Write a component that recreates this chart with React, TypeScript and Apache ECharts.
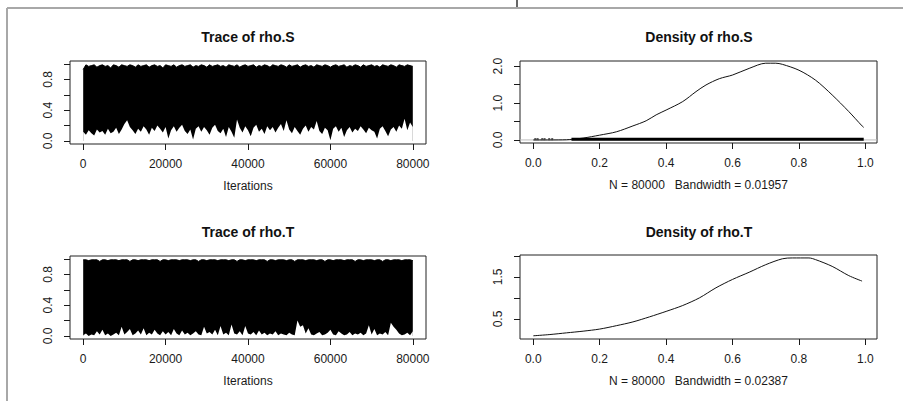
import React, { useEffect, useRef } from "react";
import * as echarts from "echarts";

const FONT = "'Liberation Sans', Arial, Helvetica, sans-serif";
const INK = "#1a1a1a";

// ---------- data ----------
const ITER_MAX = 80000;
const TRACE_POINTS = 121;

const traceSLow = [
  0.12, 0.08, 0.14, 0.10, 0.07, 0.15, 0.11, 0.13, 0.08, 0.16,
  0.10, 0.12, 0.17, 0.09, 0.15, 0.22, 0.27, 0.18, 0.14, 0.09,
  0.16, 0.12, 0.19, 0.15, 0.08, 0.17, 0.13, 0.20, 0.16, 0.11,
  0.18, 0.03, 0.14, 0.19, 0.12, 0.17, 0.21, 0.13, 0.09, 0.15,
  0.02, 0.16, 0.19, 0.12, 0.18, 0.14, 0.08, 0.17, 0.21, 0.13,
  0.10, 0.16, 0.05, 0.18, 0.12, 0.04, 0.28, 0.17, 0.11, 0.19,
  0.14, 0.06, 0.17, 0.21, 0.12, 0.16, 0.09, 0.19, 0.14, 0.18,
  0.11, 0.17, 0.22, 0.13, 0.27, 0.15, 0.10, 0.18, 0.13, 0.08,
  0.16, 0.20, 0.12, 0.18, 0.15, 0.26, 0.13, 0.09, 0.17, 0.14,
  0.01, 0.16, 0.19, 0.12, 0.17, 0.05, 0.14, 0.18, 0.11, 0.16,
  0.13, 0.19, 0.15, 0.10, 0.17, 0.14, 0.12, 0.03, 0.16, 0.19,
  0.13, 0.06, 0.15, 0.18, 0.12, 0.20, 0.16, 0.29, 0.14, 0.24, 0.18,
];
const traceSHigh = [
  0.93, 0.99, 0.97, 0.98, 0.99, 0.96, 0.98, 0.99, 0.97, 0.98,
  0.95, 0.99, 0.98, 0.96, 0.99, 0.98, 0.97, 0.99, 0.98, 0.96,
  0.99, 0.97, 0.98, 0.99, 0.96, 0.98, 0.99, 0.97, 0.98, 0.95,
  0.99, 0.98, 0.97, 0.99, 0.96, 0.98, 0.99, 0.97, 0.98, 0.99,
  0.96, 0.98, 0.97, 0.99, 0.98, 0.96, 0.99, 0.97, 0.98, 0.99,
  0.97, 0.98, 0.96, 0.99, 0.98, 0.97, 0.99, 0.96, 0.98, 0.99,
  0.97, 0.98, 0.99, 0.96, 0.98, 0.97, 0.99, 0.98, 0.96, 0.99,
  0.98, 0.97, 0.99, 0.98, 0.96, 0.99, 0.97, 0.98, 0.99, 0.96,
  0.98, 0.99, 0.97, 0.98, 0.96, 0.99, 0.98, 0.97, 0.99, 0.98,
  0.96, 0.98, 0.99, 0.97, 0.98, 0.99, 0.96, 0.98, 0.97, 0.99,
  0.98, 0.96, 0.99, 0.97, 0.98, 0.99, 0.97, 0.98, 0.96, 0.99,
  0.98, 0.97, 0.99, 0.98, 0.96, 0.99, 0.98, 0.97, 0.99, 0.98, 0.97,
];
const traceTLow = [
  0.01, 0.03, 0.00, 0.02, 0.01, 0.06, 0.02, 0.08, 0.01, 0.03,
  0.00, 0.02, 0.04, 0.01, 0.12, 0.02, 0.05, 0.09, 0.01, 0.03,
  0.07, 0.02, 0.10, 0.01, 0.04, 0.02, 0.08, 0.03, 0.01, 0.06,
  0.02, 0.05, 0.01, 0.09, 0.03, 0.01, 0.07, 0.02, 0.04, 0.01,
  0.03, 0.06, 0.02, 0.01, 0.12, 0.03, 0.05, 0.02, 0.08, 0.01,
  0.13, 0.02, 0.04, 0.01, 0.15, 0.03, 0.02, 0.06, 0.01, 0.13,
  0.03, 0.02, 0.05, 0.01, 0.07, 0.02, 0.04, 0.01, 0.03, 0.02,
  0.06, 0.01, 0.03, 0.02, 0.01, 0.04, 0.02, 0.01, 0.20, 0.12,
  0.14, 0.03, 0.10, 0.02, 0.01, 0.03, 0.05, 0.01, 0.02, 0.04,
  0.08, 0.02, 0.01, 0.06, 0.03, 0.01, 0.02, 0.05, 0.01, 0.03,
  0.02, 0.04, 0.01, 0.03, 0.14, 0.02, 0.09, 0.01, 0.03, 0.02,
  0.05, 0.01, 0.17, 0.12, 0.08, 0.03, 0.01, 0.02, 0.04, 0.01, 0.06,
];
const traceTHigh = [
  0.99, 0.99, 0.98, 0.99, 0.99, 0.99, 0.97, 0.99, 0.99, 0.98,
  0.99, 0.99, 0.99, 0.98, 0.99, 0.99, 0.99, 0.97, 0.99, 0.99,
  0.98, 0.99, 0.99, 0.99, 0.98, 0.99, 0.99, 0.99, 0.97, 0.99,
  0.99, 0.98, 0.99, 0.99, 0.99, 0.98, 0.99, 0.99, 0.99, 0.98,
  0.99, 0.99, 0.97, 0.99, 0.99, 0.98, 0.99, 0.99, 0.99, 0.98,
  0.99, 0.99, 0.99, 0.98, 0.99, 0.99, 0.97, 0.99, 0.99, 0.98,
  0.99, 0.99, 0.99, 0.98, 0.99, 0.99, 0.99, 0.97, 0.99, 0.99,
  0.98, 0.99, 0.99, 0.99, 0.98, 0.99, 0.99, 0.97, 0.99, 0.99,
  0.99, 0.98, 0.99, 0.99, 0.99, 0.98, 0.99, 0.99, 0.97, 0.99,
  0.99, 0.98, 0.99, 0.99, 0.99, 0.98, 0.99, 0.99, 0.99, 0.97,
  0.99, 0.99, 0.98, 0.99, 0.99, 0.99, 0.98, 0.99, 0.99, 0.97,
  0.99, 0.99, 0.98, 0.99, 0.99, 0.99, 0.98, 0.99, 0.99, 0.99, 0.98,
];

const densSX = [0.0, 0.05, 0.1, 0.12, 0.15, 0.2, 0.25, 0.3, 0.34, 0.37, 0.4, 0.45, 0.49, 0.52, 0.56, 0.6, 0.65, 0.7, 0.73, 0.75, 0.8, 0.85, 0.9, 0.95, 0.99, 0.995];
const densSY = [0.0, 0.0, 0.005, 0.02, 0.05, 0.13, 0.22, 0.38, 0.52, 0.68, 0.81, 1.04, 1.31, 1.49, 1.66, 1.76, 1.94, 2.08, 2.08, 2.05, 1.89, 1.62, 1.22, 0.77, 0.38, 0.34];
const densTX = [0.0, 0.05, 0.1, 0.15, 0.2, 0.25, 0.3, 0.35, 0.4, 0.45, 0.5, 0.55, 0.6, 0.65, 0.7, 0.75, 0.78, 0.83, 0.85, 0.9, 0.95, 0.99];
const densTY = [0.10, 0.13, 0.17, 0.21, 0.26, 0.34, 0.43, 0.55, 0.68, 0.82, 1.0, 1.24, 1.44, 1.61, 1.79, 1.93, 1.95, 1.95, 1.91, 1.75, 1.53, 1.40];

// rug of observations along the bottom of the rho.S density
const rugSRange = [0.115, 0.995];
const rugSDots = [0.006, 0.013, 0.027, 0.034, 0.048, 0.057];

const traceXTicks = [0, 20000, 40000, 60000, 80000];
const traceYTicks = [0, 0.2, 0.4, 0.6, 0.8, 1.0];
const traceYLabels = [0, 0.4, 0.8];
const densXTicks = [0, 0.2, 0.4, 0.6, 0.8, 1.0];
const densSYTicks = [0, 0.5, 1.0, 1.5, 2.0];
const densSYLabels = [0, 1.0, 2.0];
const densTYTicks = [0.5, 1.0, 1.5, 2.0];
const densTYLabels = [0.5, 1.5];

const titles = ["Trace of rho.S", "Density of rho.S", "Trace of rho.T", "Density of rho.T"];
const xNames = ["Iterations", "N = 80000   Bandwidth = 0.01957", "Iterations", "N = 80000   Bandwidth = 0.02387"];

// ---------- helpers ----------
const iterAt = (i: number) => Math.round((i * ITER_MAX) / (TRACE_POINTS - 1));

// black envelope down to 0, then white envelope of the lower edge on top of it
const bandSeries = (gi: number, low: number[], high: number[]) => [
  {
    type: "line",
    xAxisIndex: gi,
    yAxisIndex: gi,
    symbol: "none",
    lineStyle: { width: 1, color: "#000" },
    areaStyle: { color: "#000", opacity: 1, origin: 0 },
    data: high.map((v, i) => [iterAt(i), v]),
    silent: true,
    z: 2,
  },
  {
    type: "line",
    xAxisIndex: gi,
    yAxisIndex: gi,
    symbol: "none",
    lineStyle: { width: 0, color: "#fff", opacity: 0 },
    areaStyle: { color: "#fff", opacity: 1, origin: 0 },
    data: low.map((v, i) => [iterAt(i), v]),
    silent: true,
    z: 3,
  },
];

const labelStyle = { fontSize: 12, color: INK, fontFamily: FONT };

const xAxisOf = (gi: number, min: number, max: number, ticks: number[], fmt: (v: number) => string, name: string) => ({
  type: "value",
  gridIndex: gi,
  min,
  max,
  axisLine: { show: false, onZero: false },
  splitLine: { show: false },
  axisTick: { show: true, length: 6, customValues: ticks, lineStyle: { color: INK, width: 1 } },
  axisLabel: { ...labelStyle, margin: 14, customValues: ticks, formatter: fmt },
  name,
  nameLocation: "middle",
  nameGap: 36,
  nameTextStyle: { ...labelStyle },
});

const yAxisOf = (gi: number, min: number, max: number, ticks: number[], labels: number[]) => ({
  type: "value",
  gridIndex: gi,
  min,
  max,
  axisLine: { show: false, onZero: false },
  splitLine: { show: false },
  axisTick: { show: true, length: 6, customValues: ticks, lineStyle: { color: INK, width: 1 } },
  axisLabel: { ...labelStyle, margin: 16, rotate: 90, customValues: labels, formatter: (v: number) => v.toFixed(1) },
});

const fmtInt = (v: number) => String(Math.round(v));
const fmt1 = (v: number) => v.toFixed(1);

const gridBox = { show: true, borderColor: "#222", borderWidth: 1, backgroundColor: "transparent" };

const titleText = (text: string, x: number, y: number) => ({
  type: "text",
  x,
  y,
  style: { text, align: "center", verticalAlign: "middle", fontSize: 14, fontWeight: "bold", fontFamily: FONT, fill: "#111" },
});

const option = {
  animation: false,
  backgroundColor: "#fff",
  grid: [
    { ...gridBox, left: 70, top: 61, width: 356, height: 83 },
    { ...gridBox, left: 520, top: 61, width: 357, height: 82 },
    { ...gridBox, left: 70, top: 256, width: 356, height: 83 },
    { ...gridBox, left: 520, top: 255, width: 357, height: 84 },
  ],
  xAxis: [
    xAxisOf(0, -3200, 83200, traceXTicks, fmtInt, xNames[0]),
    xAxisOf(1, -0.04, 1.035, densXTicks, fmt1, xNames[1]),
    xAxisOf(2, -3200, 83200, traceXTicks, fmtInt, xNames[2]),
    xAxisOf(3, -0.04, 1.035, densXTicks, fmt1, xNames[3]),
  ],
  yAxis: [
    yAxisOf(0, -0.04, 1.04, traceYTicks, traceYLabels),
    yAxisOf(1, -0.083, 2.14, densSYTicks, densSYLabels),
    yAxisOf(2, -0.04, 1.04, traceYTicks, traceYLabels),
    yAxisOf(3, 0.024, 2.02, densTYTicks, densTYLabels),
  ],
  series: [
    ...bandSeries(0, traceSLow, traceSHigh),
    ...bandSeries(2, traceTLow, traceTHigh),
    {
      type: "line",
      xAxisIndex: 1,
      yAxisIndex: 1,
      symbol: "none",
      lineStyle: { width: 1, color: "#bbb" },
      data: [[-0.04, 0], [1.035, 0]],
      silent: true,
    },
    {
      type: "line",
      xAxisIndex: 1,
      yAxisIndex: 1,
      symbol: "none",
      smooth: 0.3,
      lineStyle: { width: 1, color: "#111" },
      data: densSX.map((x, i) => [x, densSY[i]]),
      silent: true,
    },
    {
      type: "line",
      xAxisIndex: 1,
      yAxisIndex: 1,
      symbol: "none",
      lineStyle: { width: 3, color: "#000" },
      data: rugSRange.map((x) => [x, 0.02]),
      silent: true,
    },
    {
      type: "scatter",
      xAxisIndex: 1,
      yAxisIndex: 1,
      symbol: "rect",
      symbolSize: [2, 2],
      itemStyle: { color: "#000" },
      data: rugSDots.map((x) => [x, 0.02]),
      silent: true,
    },
    {
      type: "line",
      xAxisIndex: 3,
      yAxisIndex: 3,
      symbol: "none",
      smooth: 0.3,
      lineStyle: { width: 1, color: "#111" },
      data: densTX.map((x, i) => [x, densTY[i]]),
      silent: true,
    },
  ],
  graphic: [
    { type: "line", shape: { x1: 7, y1: 8, x2: 903, y2: 8 }, style: { stroke: "#a8a8a8", lineWidth: 2 } },
    { type: "line", shape: { x1: 7, y1: 8, x2: 7, y2: 401 }, style: { stroke: "#a8a8a8", lineWidth: 2 } },
    { type: "line", shape: { x1: 517, y1: 0, x2: 517, y2: 7 }, style: { stroke: "#333", lineWidth: 1.5 } },
    titleText(titles[0], 248, 37),
    titleText(titles[1], 699, 37),
    titleText(titles[2], 248, 232),
    titleText(titles[3], 699, 232),
  ],
};

export default function App() {
  const ref = useRef<HTMLDivElement>(null);
  useEffect(() => {
    if (!ref.current) return;
    const chart = echarts.init(ref.current, null, { renderer: "svg" });
    chart.setOption(option as any);
    return () => chart.dispose();
  }, []);
  return (
    <div
      ref={ref}
      style={{ position: "fixed", left: 0, top: 0, width: 903, height: 401, background: "#fff" }}
    />
  );
}
